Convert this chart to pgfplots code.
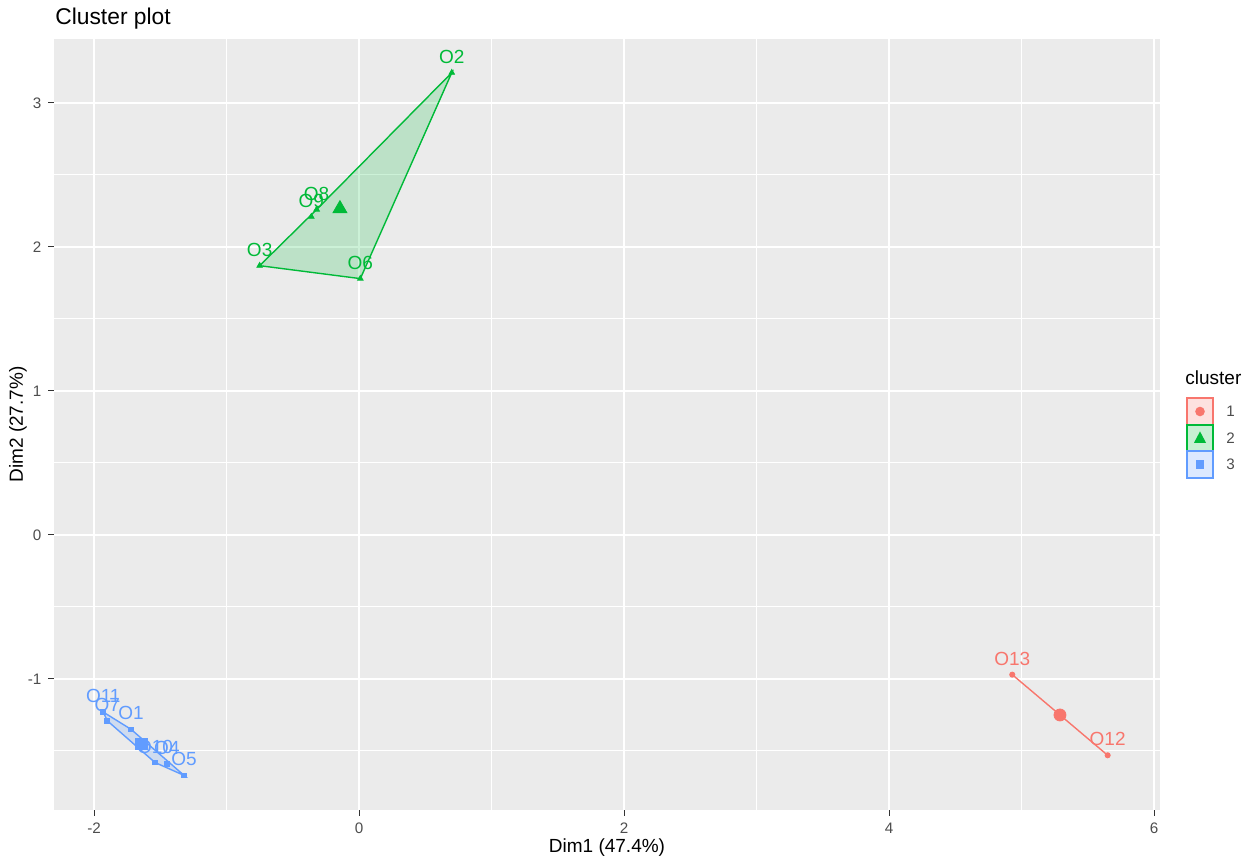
\documentclass[border=0pt]{standalone}
\usepackage{pgfplots}
\pgfplotsset{compat=1.18}
\usepackage{fontspec}
\setmainfont{Liberation Sans}
\definecolor{c1}{HTML}{F8766D}
\definecolor{c2}{HTML}{00BA38}
\definecolor{c3}{HTML}{619CFF}
\definecolor{panel}{HTML}{EBEBEB}
\definecolor{tickc}{HTML}{4D4D4D}
\definecolor{tickm}{HTML}{333333}

\pgfplotstableread{
x y label
4.93 -0.97 O13
5.65 -1.53 O12
}\redpts
\pgfplotstableread{
x y label
0.70 3.21 O2
-0.75 1.87 O3
0.01 1.78 O6
-0.32 2.26 O8
-0.36 2.21 O9
}\greenpts
\pgfplotstableread{
x y label
-1.93 -1.23 O11
-1.90 -1.29 O7
-1.72 -1.35 O1
-1.54 -1.58 O10
-1.45 -1.59 O4
-1.32 -1.67 O5
}\bluepts
\pgfplotstableread{
x y
-0.75 1.87
-0.32 2.26
0.70 3.21
0.01 1.78
}\greenhull
\pgfplotstableread{
x y
-1.93 -1.23
-1.72 -1.35
-1.32 -1.67
-1.54 -1.58
-1.90 -1.29
}\bluehull

\begin{document}
\begin{tikzpicture}
\path[use as bounding box] (-27pt,-24.5pt) rectangle (599pt,405pt);
\begin{axis}[
  at={(0,0)}, anchor=south west,
  scale only axis, width=553pt, height=385.5pt,
  xmin=-2.302, xmax=6.045, ymin=-1.910, ymax=3.444,
  axis background/.style={fill=panel},
  axis line style={draw=none},
  xtick={-2,0,2,4,6}, ytick={-1,0,1,2,3},
  minor xtick={-1,1,3,5}, minor ytick={-1.5,-0.5,0.5,1.5,2.5},
  grid=both,
  major grid style={white, line width=1pt},
  minor grid style={white, line width=0.5pt},
  tick align=outside, tick pos=left,
  major tick length=2.8pt, minor tick length=0pt,
  tick style={tickm, line width=0.5pt},
  ticklabel style={font=\fontsize{7.6}{8}\selectfont, text=tickc},
  /pgf/number format/assume math mode=true,
  xlabel={Dim1 (47.4\%)}, ylabel={Dim2 (27.7\%)},
  label style={font=\fontsize{9.5}{10}\selectfont},
  xlabel style={at={(axis description cs:0.5,-0.0545)}, anchor=base},
  ylabel style={at={(axis description cs:-0.0325,0.5)}, anchor=center},
  clip=false,
]
% hulls
\addplot[draw=c2, fill=c2, fill opacity=0.2, line width=0.7pt] table {\greenhull} -- cycle;
\addplot[draw=c3, fill=c3, fill opacity=0.2, line width=0.7pt] table {\bluehull} -- cycle;
\addplot[draw=c1, line width=0.7pt] table {\redpts};
% points with labels
\addplot[only marks, mark=*, mark size=1.3pt, color=c1,
  nodes near coords, point meta=explicit symbolic,
  nodes near coords style={anchor=center, yshift=8pt, font=\fontsize{9.5}{10}\selectfont, text=c1}]
  table[meta=label] {\redpts};
\addplot[only marks, mark=triangle*, mark size=1.6pt, color=c2,
  nodes near coords, point meta=explicit symbolic,
  nodes near coords style={anchor=center, yshift=8pt, font=\fontsize{9.5}{10}\selectfont, text=c2}]
  table[meta=label] {\greenpts};
\addplot[only marks, mark=square*, mark size=1.2pt, color=c3,
  nodes near coords, point meta=explicit symbolic,
  nodes near coords style={anchor=center, yshift=8pt, font=\fontsize{9.5}{10}\selectfont, text=c3}]
  table[meta=label] {\bluepts};
% cluster centres
\addplot[only marks, mark=*, mark size=3pt, color=c1] coordinates {(5.29,-1.25)};
\addplot[only marks, mark=triangle*, mark size=4pt, color=c2] coordinates {(-0.144,2.266)};
\addplot[only marks, mark=square*, mark size=2.8pt, color=c3] coordinates {(-1.643,-1.452)};
\end{axis}
% title
\node[anchor=base west, font=\fontsize{11.4}{12}\selectfont, inner sep=0pt] at (0.5pt,392.5pt) {Cluster plot};
% legend
\node[anchor=base west, font=\fontsize{9.5}{10}\selectfont, inner sep=0pt] at (565.5pt,213pt) {cluster};
\draw[c1, fill=c1!22!white, line width=0.6pt] (566.5pt,192.5pt) rectangle (579.5pt,206pt);
\draw[c2, fill=c2!22!white, line width=0.6pt] (566.5pt,179.5pt) rectangle (579.5pt,192.5pt);
\draw[c3, fill=c3!22!white, line width=0.6pt] (566.5pt,166pt) rectangle (579.5pt,179.5pt);
\fill[c1] (573pt,199.25pt) circle (2.4pt);
\fill[c2] (573pt,189.3pt) -- (576pt,183.6pt) -- (570pt,183.6pt) -- cycle;
\fill[c3] (570.8pt,170.5pt) rectangle (575.2pt,174.9pt);
\node[anchor=west, font=\fontsize{7.6}{8}\selectfont, text=tickc, inner sep=0pt] at (586pt,199.25pt) {1};
\node[anchor=west, font=\fontsize{7.6}{8}\selectfont, text=tickc, inner sep=0pt] at (586pt,186pt) {2};
\node[anchor=west, font=\fontsize{7.6}{8}\selectfont, text=tickc, inner sep=0pt] at (586pt,172.75pt) {3};
\end{tikzpicture}
\end{document}
